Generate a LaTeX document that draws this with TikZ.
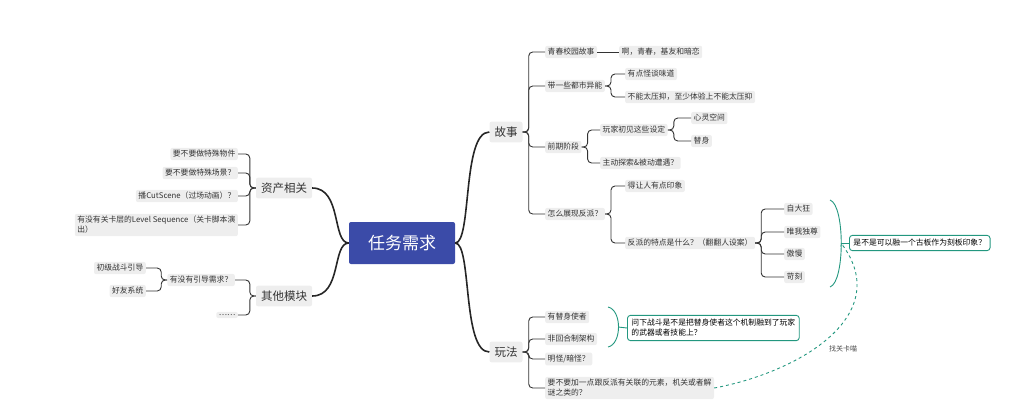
\documentclass[tikz,border=0pt]{standalone}
\usepackage{fontspec}
\setmainfont{Noto Sans CJK SC}
\usetikzlibrary{positioning}
\definecolor{rootblue}{HTML}{3B4BA8}
\definecolor{tealc}{HTML}{23977F}
\tikzset{
  topic/.style={fill=gray!13, rounded corners=2pt, inner sep=2.5pt, font=\fontsize{7.8}{10}\selectfont, text=black!80},
  main/.style={topic, inner sep=5pt, font=\fontsize{11.5}{13}\selectfont},
  root/.style={fill=rootblue, rounded corners=2pt, text=white, minimum width=106pt, minimum height=42pt, font=\fontsize{17}{20}\selectfont},
  note/.style={draw=tealc, line width=0.9pt, rounded corners=3pt, inner sep=4pt, font=\fontsize{7.8}{10}\selectfont, align=left},
  link/.style={draw=black!80, line width=0.9pt, rounded corners=4pt},
  trunk/.style={draw=black!85, line width=1.6pt},
}
% connectors: right side and left side
\newcommand\lnkR[2]{\draw[link] (#1.east) -- ++(6,0) |- (#2.west);}
\newcommand\lnkL[2]{\draw[link] (#1.west) -- ++(-6,0) |- (#2.east);}
\begin{document}
\begin{tikzpicture}[x=1pt,y=-1pt]
\useasboundingbox (0,0) rectangle (1024,410);

% 中心
\node[root] (root) at (402,243) {任务需求};
\node[main] (gushi) at (506,132) {故事};
\node[main] (wanfa) at (506,352) {玩法};
\node[main] (zichan) at (284,188) {资产相关};
\node[main] (qita) at (284,296) {其他模块};
\draw[trunk] (root.east) .. controls (472,243) and (462,132) .. (gushi.west);
\draw[trunk] (root.east) .. controls (472,243) and (462,352) .. (wanfa.west);
\draw[trunk] (root.west) .. controls (332,243) and (342,188) .. (zichan.east);
\draw[trunk] (root.west) .. controls (332,243) and (342,296) .. (qita.east);

% 故事
\node[topic, anchor=west] (qc) at (545,52) {青春校园故事};
\node[topic, anchor=west] (ysh) at (619,52) {啊，青春，基友和暗恋};
\node[topic, anchor=west] (ds) at (545,86) {带一些都市异能};
\node[topic, anchor=west] (gt) at (625,74) {有点怪谈味道};
\node[topic, anchor=west] (by) at (625,97) {不能太压抑，至少体验上不能太压抑};
\node[topic, anchor=west] (qq) at (545,147) {前期阶段};
\node[topic, anchor=west] (wj) at (600,130) {玩家初见这些设定};
\node[topic, anchor=west] (xl) at (691,118) {心灵空间};
\node[topic, anchor=west] (ts) at (691,141) {替身};
\node[topic, anchor=west] (zd) at (600,163) {主动探索\&被动遭遇？};
\node[topic, anchor=west] (fp) at (545,214) {怎么展现反派？};
\node[topic, anchor=west] (yx) at (625,186) {得让人有点印象};
\node[topic, anchor=west] (td) at (625,243) {反派的特点是什么？（翻翻人设案）};
\node[topic, anchor=west] (t1) at (784,209) {自大狂};
\node[topic, anchor=west] (t2) at (784,232) {唯我独尊};
\node[topic, anchor=west] (t3) at (784,254) {傲慢};
\node[topic, anchor=west] (t4) at (784,277) {苛刻};
\foreach \c in {qc,ds,qq,fp} {\lnkR{gushi}{\c}}
\draw[link] (qc.east) -- (ysh.west);
\foreach \c in {gt,by} {\lnkR{ds}{\c}}
\foreach \c in {wj,zd} {\lnkR{qq}{\c}}
\foreach \c in {xl,ts} {\lnkR{wj}{\c}}
\foreach \c in {yx,td} {\lnkR{fp}{\c}}
\foreach \c in {t1,t2,t3,t4} {\lnkR{td}{\c}}
\node[note, anchor=west] (ban) at (849,243) {是不是可以融一个古板作为刻板印象？};
\draw[tealc, line width=0.9pt] (830,200) .. controls (845,205) and (845,282) .. (830,287);
\coordinate (brk1) at (841,243);
\draw[tealc, line width=0.9pt] (brk1) -- (ban.west);

% 玩法
\node[topic, anchor=west] (w1) at (545,317) {有替身使者};
\node[topic, anchor=west] (w2) at (545,339) {非回合制架构};
\node[topic, anchor=west] (w3) at (545,359) {明怪/暗怪？};
\node[topic, anchor=west, align=left] (w4) at (545,388) {要不要加一点跟反派有关联的元素，机关或者解\\谜之类的？};
\foreach \c in {w1,w2,w3,w4} {\lnkR{wanfa}{\c}}
\node[note, anchor=west] (zd2) at (627,328) {问下战斗是不是把替身使者这个机制融到了玩家\\的武器或者技能上？};
\draw[tealc, line width=0.9pt] (608,307) .. controls (622,310) and (622,344) .. (608,347);
\coordinate (brk2) at (618,327);
\draw[tealc, line width=0.9pt] (brk2) -- (zd2.west);
\draw[tealc, line width=0.9pt, dashed, ->] (w4.east) .. controls (800,372) and (895,315) .. (brk1);
\node[font=\fontsize{7}{8}\selectfont, text=black!70] (gk) at (843,349) {找关卡喵};

% 资产相关
\node[topic, anchor=east] (a1) at (238,154) {要不要做特殊物件};
\node[topic, anchor=east] (a2) at (238,173) {要不要做特殊场景？};
\node[topic, anchor=east] (a3) at (238,196) {播CutScene（过场动画）？};
\node[topic, anchor=east, align=left] (a4) at (238,225) {有没有关卡层的Level Sequence（关卡脚本演\\出）};
\foreach \c in {a1,a2,a3,a4} {\lnkL{zichan}{\c}}

% 其他模块
\node[topic, anchor=east] (yd) at (235,280) {有没有引导需求？};
\node[topic, anchor=east] (dots) at (238,315) {……};
\node[topic, anchor=east] (zz) at (146,268) {初级战斗引导};
\node[topic, anchor=east] (hy) at (146,291) {好友系统};
\foreach \c in {yd,dots} {\lnkL{qita}{\c}}
\foreach \c in {zz,hy} {\lnkL{yd}{\c}}
\end{tikzpicture}
\end{document}
